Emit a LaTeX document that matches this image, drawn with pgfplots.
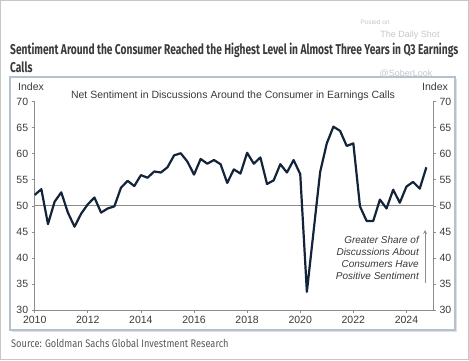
\documentclass[border=0pt]{standalone}
\usepackage{fontspec}
\usepackage{pgfplots}
\pgfplotsset{compat=1.18}
\setmainfont{Liberation Sans}
\newfontfamily\titlefont[FakeStretch=0.72]{Fira Sans}
\newfontfamily\sourcefont[FakeStretch=0.84]{Fira Sans}
\definecolor{navy}{HTML}{13243A}
\definecolor{axgray}{HTML}{8C8C8C}
\definecolor{txtgray}{HTML}{3A3A3A}
\definecolor{framec}{HTML}{B4C2D0}
\definecolor{wm}{HTML}{C4C6CC}
\begin{document}
\begin{tikzpicture}
\useasboundingbox (0,0) rectangle (469pt,360pt);
\draw[gray!45, line width=0.8pt] (0.5pt,0.5pt) rectangle (468.5pt,359.5pt);
% frame box with shadow
\fill[gray!25] (12pt,28pt) rectangle (457pt,281pt);
\filldraw[fill=white, draw=framec, line width=1.1pt] (10pt,30pt) rectangle (455pt,283pt);
% title
\node[anchor=base west, inner sep=0pt, text=txtgray] at (10pt,305.5pt) {\titlefont\bfseries\fontsize{14.2}{17}\selectfont Sentiment Around the Consumer Reached the Highest Level in Almost Three Years in Q3 Earnings};
\node[anchor=base west, inner sep=0pt, text=txtgray] at (10pt,287.3pt) {\titlefont\bfseries\fontsize{14.2}{17}\selectfont Calls};
% source
\node[anchor=base west, inner sep=0pt, text=txtgray!85] at (11pt,13pt) {\sourcefont\fontsize{11}{13}\selectfont Source: Goldman Sachs Global Investment Research};
% watermark
\node[text=wm, inner sep=0pt] at (375pt,338pt) {\fontsize{6.5}{8}\selectfont Posted on};
\node[text=wm, inner sep=0pt] at (410pt,325pt) {\fontsize{9}{11}\selectfont The Daily Shot};
\node[text=wm, inner sep=0pt] at (406pt,286pt) {\fontsize{9}{11}\selectfont @SoberLook};
% index labels and subtitle
\node[text=txtgray, inner sep=0pt] at (31pt,273pt) {\fontsize{10.5}{12}\selectfont Index};
\node[text=txtgray, inner sep=0pt] at (435pt,273pt) {\fontsize{10.5}{12}\selectfont Index};
\node[text=txtgray, inner sep=0pt] at (233pt,264.3pt) {\fontsize{10.5}{12}\selectfont Net Sentiment in Discussions Around the Consumer in Earnings Calls};
\begin{axis}[
  at={(34.7pt,50pt)}, anchor=south west,
  scale only axis, width=398.3pt, height=208.3pt,
  xmin=2010, xmax=2025, ymin=30, ymax=70,
  axis x line*=bottom, axis y line*=left,
  axis line style={axgray, line width=0.8pt, -},
  tick align=outside, major tick length=3pt,
  tick style={axgray, line width=0.7pt},
  xtick={2010,2012,...,2024}, ytick={30,35,...,70},
  /pgf/number format/1000 sep=,
  /pgf/number format/assume math mode=true,
  ticklabel style={font=\fontsize{10.5}{12}\selectfont, text=txtgray},
  clip=false,
]
\addplot[axgray, line width=0.8pt] coordinates {(2010,50) (2025,50)};
\addplot[navy, line width=2.2pt, line join=round] coordinates {
(2010.00,52.1) (2010.25,53.2) (2010.50,46.5) (2010.75,50.8)
(2011.00,52.6) (2011.25,48.7) (2011.50,46.0) (2011.75,48.5)
(2012.00,50.3) (2012.25,51.6) (2012.50,48.7) (2012.75,49.5)
(2013.00,49.9) (2013.25,53.5) (2013.50,54.8) (2013.75,53.8)
(2014.00,55.9) (2014.25,55.4) (2014.50,56.6) (2014.75,56.4)
(2015.00,57.4) (2015.25,59.7) (2015.50,60.1) (2015.75,58.5)
(2016.00,56.0) (2016.25,59.0) (2016.50,58.1) (2016.75,58.8)
(2017.00,58.0) (2017.25,54.4) (2017.50,57.0) (2017.75,56.2)
(2018.00,60.2) (2018.25,58.1) (2018.50,59.3) (2018.75,54.2)
(2019.00,54.9) (2019.25,58.0) (2019.50,56.4) (2019.75,58.8)
(2020.00,56.1) (2020.25,33.5) (2020.50,45.0) (2020.75,56.5)
(2021.00,62.0) (2021.25,65.2) (2021.50,64.4) (2021.75,61.5)
(2022.00,62.0) (2022.25,49.9) (2022.50,47.1) (2022.75,47.1)
(2023.00,51.2) (2023.25,49.5) (2023.50,53.1) (2023.75,50.6)
(2024.00,53.7) (2024.25,54.6) (2024.50,53.3) (2024.75,57.4)
};
\end{axis}
\begin{axis}[
  at={(34.7pt,50pt)}, anchor=south west,
  scale only axis, width=398.3pt, height=208.3pt,
  xmin=2010, xmax=2025, ymin=30, ymax=70,
  axis x line=none, axis y line*=right,
  axis line style={axgray, line width=0.8pt, -},
  tick align=outside, major tick length=3pt,
  tick style={axgray, line width=0.7pt},
  ytick={30,35,...,70},
  /pgf/number format/assume math mode=true,
  ticklabel style={font=\fontsize{10.5}{12}\selectfont, text=txtgray},
]
\addplot[draw=none] coordinates {(2010,30) (2025,70)};
\end{axis}
% annotation
\node[anchor=east, align=right, text=txtgray, inner sep=0pt] at (419pt,102pt) {\fontsize{10}{11}\selectfont\itshape Greater Share of\\ \fontsize{10}{11}\selectfont\itshape Discussions About\\ \fontsize{10}{11}\selectfont\itshape Consumers Have\\ \fontsize{10}{11}\selectfont\itshape Positive Sentiment};
\draw[axgray, line width=0.8pt, -stealth] (425pt,77pt) -- (425pt,130pt);
\end{tikzpicture}
\end{document}
